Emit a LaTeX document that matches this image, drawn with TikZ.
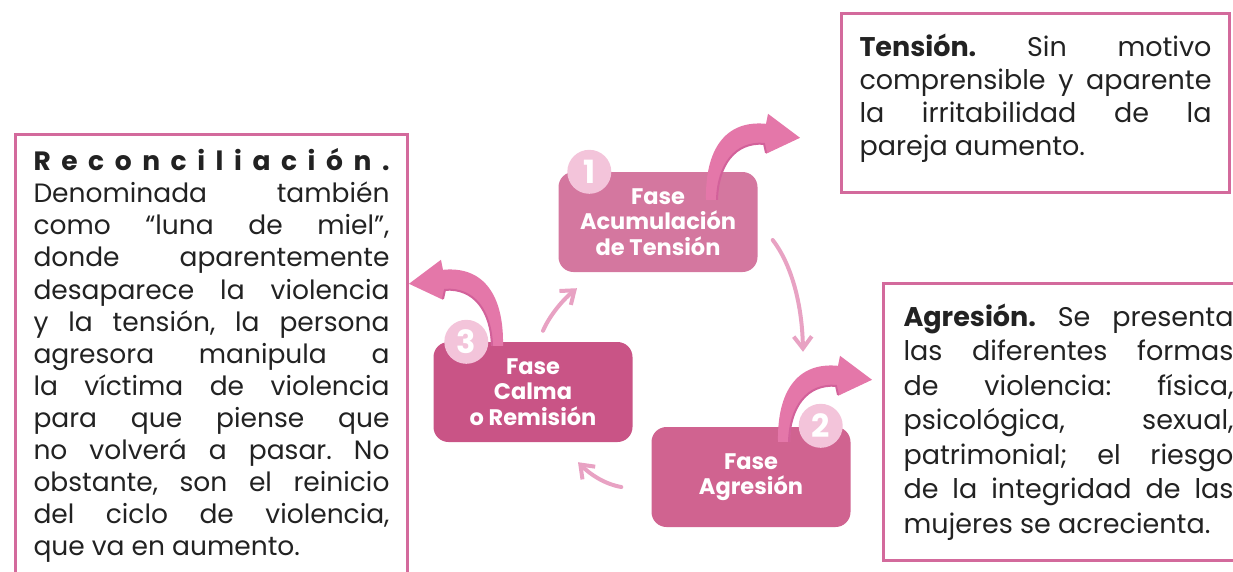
\documentclass[tikz,border=0pt]{standalone}
\usepackage{fontspec}
\setmainfont{Poppins}
\frenchspacing
\usetikzlibrary{arrows.meta,calc}

\definecolor{framepink}{HTML}{D36A9C}
\definecolor{faseuno}{HTML}{D4779F}
\definecolor{fasedos}{HTML}{D06390}
\definecolor{fasetres}{HTML}{C95486}
\definecolor{circpink}{HTML}{F3C4DA}
\definecolor{arrowpink}{HTML}{E477A9}
\definecolor{arrowedge}{HTML}{D2619A}
\definecolor{thinpink}{HTML}{E8A2C3}
\definecolor{texto}{HTML}{222222}

\tikzset{
  pics/bigarrow/.style={code={
      \fill[arrowpink] (-6,0) .. controls (-7,-50) and (13,-80) .. (54,-76) -- (56,-86) -- (88,-62) -- (54,-46) -- (52,-56) .. controls (23,-58) and (6,-35) .. (6,0) -- cycle;
      \draw[arrowedge, line width=2pt] (54,-47) -- (52,-56) .. controls (23,-58) and (6,-35) .. (5,0);
  }}
}

\begin{document}
\begin{tikzpicture}[x=1pt, y=-1pt,
    fase/.style={rounded corners=15pt, minimum width=199pt, minimum height=100pt, text=white, align=center, font=\bfseries\fontsize{22.5}{25.5}\selectfont},
    numero/.style={circle, fill=circpink, minimum size=44pt, inner sep=0pt, text=white, font=\bfseries\fontsize{32}{32}\selectfont},
    infobox/.style={draw=framepink, line width=3pt, anchor=north west, align=justify, inner xsep=18pt, inner ysep=20pt, text=texto, font=\fontsize{27}{34.5}\selectfont},
    ciclo/.style={thinpink, line width=4pt, line cap=round, line join=round, -{Straight Barb[length=12pt,width=18pt]}}]
  \clip (0,0) rectangle (1233,571);

  \node[infobox, text width=352pt, minimum height=168pt, font=\fontsize{27}{33.3}\selectfont] (tension) at (840,12) {{\bfseries Tensión.} Sin motivo\linebreak comprensible y aparente\linebreak la irritabilidad de la\linebreak pareja aumento.\vspace{10pt}};
  \node[infobox, text width=356pt, inner ysep=14pt, font=\fontsize{26.5}{32.1}\selectfont] (reconc) at (14,133) {\makebox[\hsize][s]{\bfseries R e c o n c i l i a c i ó n .}\par Denominada también\linebreak como “luna de miel”,\linebreak donde aparentemente\linebreak desaparece la violencia\linebreak y la tensión, la persona\linebreak agresora manipula a\linebreak la víctima de violencia\linebreak para que piense que\linebreak no volverá a pasar. No\linebreak obstante, son el reinicio\linebreak del ciclo de violencia,\linebreak que va en aumento.};
  \node[infobox, text width=330pt, inner xsep=20pt, minimum height=276pt] (agresion) at (882,282) {{\bfseries Agresión.} Se presenta\linebreak las diferentes formas\linebreak de violencia: física,\linebreak psicológica, sexual,\linebreak patrimonial; el riesgo\linebreak de la integridad de las\linebreak mujeres se acrecienta.};

  \node[fase, fill=faseuno] (acum) at (658,222) {Fase\\Acumulación\\de Tensión};
  \node[fase, fill=fasetres] (calma) at (533,392) {Fase\\Calma\\o Remisión};
  \node[fase, fill=fasedos] (agres) at (751,477) {Fase\\Agresión};

  \pic at ($(acum.north)+(54,28)$) {bigarrow};
  \pic at ($(agres.north)+(33,15)$) {bigarrow};
  \pic[xscale=-1] at ($(calma.north)+(-36,4)$) {bigarrow};

  \node[numero] (uno) at ($(acum.north west)+(31,0)$) {1};
  \node[numero] (tres) at ($(calma.north west)+(33,0)$) {3};
  \node[numero] (dos) at ($(agres.north east)+(-30,-1)$) {2};

  \draw[ciclo] ($(acum.east)+(15,18)$) .. controls +(17,22) and +(-1,-52) .. ($(agres.north)+(52,-75)$);
  \draw[ciclo] ($(agres.west)+(-30,10)$) .. controls +(-17,-3) and +(12,12) .. ($(calma.south)+(45,20)$);
  \draw[ciclo] ($(calma.north)+(10,-11)$) .. controls +(5,-12) and +(-17,14) .. ($(acum.south)+(-81,16)$);
\end{tikzpicture}
\end{document}
